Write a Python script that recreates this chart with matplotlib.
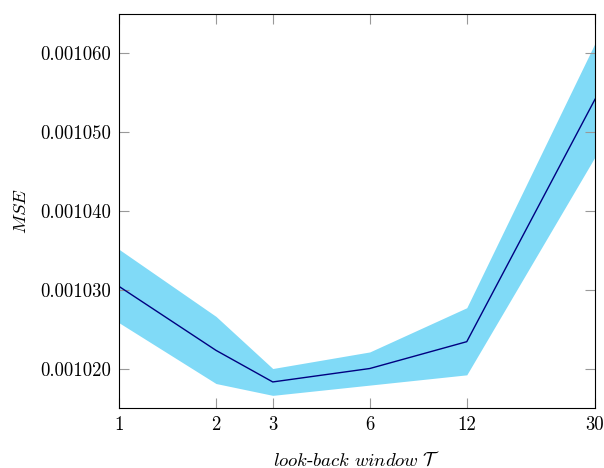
import matplotlib
matplotlib.use("Agg")
import matplotlib.pyplot as plt
from matplotlib.ticker import FixedLocator, FixedFormatter, NullLocator

plt.rcParams['font.family'] = 'serif'
plt.rcParams['font.serif'] = ['cmr10']
plt.rcParams['mathtext.fontset'] = 'cm'
plt.rcParams['axes.formatter.use_mathtext'] = True

# look-back window values and MSE (mean with upper/lower band)
windows = [1, 2, 3, 6, 12, 30]
mse_mean = [0.0010305, 0.0010224, 0.0010184, 0.0010201, 0.0010235, 0.0010542]
mse_upper = [0.0010352, 0.0010267, 0.0010201, 0.0010222, 0.0010278, 0.0010613]
mse_lower = [0.0010259, 0.0010182, 0.0010167, 0.0010180, 0.0010193, 0.0010469]
y_ticks = [0.001020, 0.001030, 0.001040, 0.001050, 0.001060]

fig = plt.figure(figsize=(6.04, 4.68), dpi=100)
ax = fig.add_axes([119 / 604, 60 / 468, 476 / 604, 394 / 468])

ax.fill_between(windows, mse_lower, mse_upper, color='#80daf7', linewidth=0)
ax.plot(windows, mse_mean, color='#000080', linewidth=1.0)

ax.set_xscale('log')
ax.set_xlim(1, 30)
ax.set_ylim(0.0010151, 0.0010650)

ax.xaxis.set_major_locator(FixedLocator(windows))
ax.xaxis.set_major_formatter(FixedFormatter([str(w) for w in windows]))
ax.xaxis.set_minor_locator(NullLocator())
ax.yaxis.set_major_locator(FixedLocator(y_ticks))
ax.yaxis.set_major_formatter(FixedFormatter(['%.6f' % v for v in y_ticks]))

ax.tick_params(direction='in', length=7, width=0.8, color='#999999',
               top=True, right=True, labelsize=13.5, pad=6)
for s in ax.spines.values():
    s.set_linewidth(0.8)

ax.set_xlabel(r'$\mathit{look}$-$\mathit{back\ window}\ \mathcal{T}$', fontsize=13.5, labelpad=12)
ax.set_ylabel(r'$MSE$', fontsize=13.5, labelpad=7)

fig.savefig('out.png', dpi=100)
